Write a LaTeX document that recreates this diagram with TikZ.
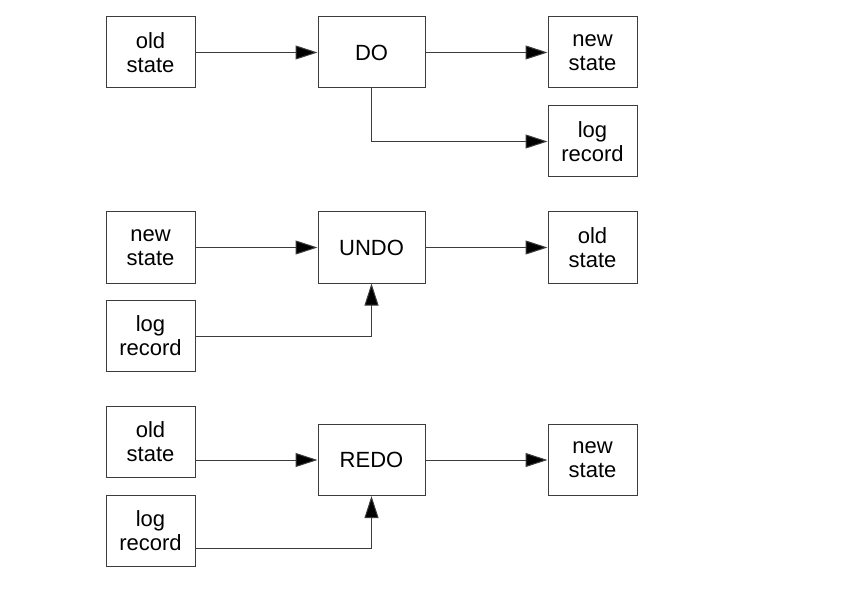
\documentclass[tikz,border=0pt]{standalone}
\usepackage{fontspec}
\setmainfont{Liberation Sans}
\usetikzlibrary{arrows.meta,positioning}
\definecolor{linecol}{RGB}{60,60,60}
\tikzset{
  statebox/.style={draw=linecol,line width=1pt,fill=white,minimum width=89pt,
                   minimum height=71pt,inner sep=0pt,align=center,
                   font=\fontsize{22}{24}\selectfont},
  opbox/.style={statebox,minimum width=107pt},
  flow/.style={-{Triangle[length=22pt,width=14pt,fill=black]},draw=linecol,
               line width=1pt},
}
\begin{document}
\begin{tikzpicture}[x=1pt,y=-1pt]
  \useasboundingbox (0,0) rectangle (850,609);
  % do
  \node[statebox] (oldA) at (150.5, 52.5) {old\\state};
  \node[opbox]    (do)   at (371.5, 52.5) {DO};
  \node[statebox] (newA) at (592.5, 52.5) {new\\state};
  \node[statebox] (logA) at (592.5,141.5) {log\\record};
  \draw[flow] (oldA) -- (do);
  \draw[flow] (do) -- (newA);
  \draw[flow] (do.south) |- (logA.west);
  % undo
  \node[statebox] (newB) at (150.5,247.5) {new\\state};
  \node[opbox]    (undo) at (371.5,247.5) {UNDO};
  \node[statebox] (oldB) at (592.5,247.5) {old\\state};
  \node[statebox] (logB) at (150.5,336.0) {log\\record};
  \draw[flow] (newB) -- (undo);
  \draw[flow] (undo) -- (oldB);
  \draw[flow] (logB.east) -| (undo.south);
  % redo
  \node[statebox] (oldC) at (150.5,442.0) {old\\state};
  \node[opbox]    (redo) at (371.5,460.0) {REDO};
  \node[statebox] (newC) at (592.5,460.0) {new\\state};
  \node[statebox] (logC) at (150.5,530.5) {log\\record};
  \draw[flow] (oldC.east |- redo.west) -- (redo.west);
  \draw[flow] (redo) -- (newC);
  \draw[flow] (logC.east |- 0,548) -| (redo.south);
\end{tikzpicture}
\end{document}
